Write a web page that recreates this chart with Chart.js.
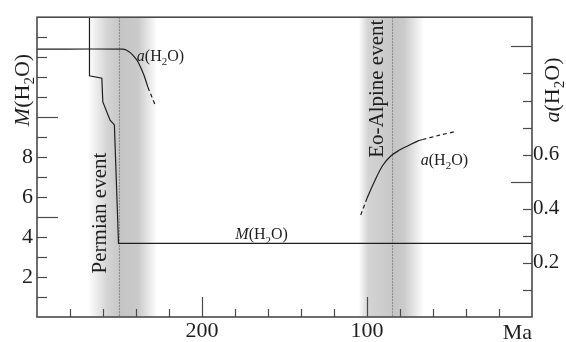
<!DOCTYPE html>
<html><head><meta charset="utf-8">
<script src="https://cdn.jsdelivr.net/npm/chart.js@4"></script>
<style>html,body{margin:0;padding:0;background:#fff;}canvas{display:block;}</style>
</head><body>
<canvas id="c" width="566" height="342"></canvas>
<script>
// ---------- data (age in Ma) ----------
const M_AGE = [268.2, 268.2, 260.7, 260.1, 255.7, 253.1, 250.6, 0];
const M_VAL = [16, 12.07, 11.95, 10.76, 9.85, 9.61, 3.68, 3.68];

const A1_AGE = [300, 248, 246, 243.5, 240.5, 238.5, 235.4, 233.4, 232.8];
const A1_VAL = [0.99, 0.99, 0.987, 0.977, 0.958, 0.94, 0.897, 0.861, 0.849];
const A1_DASH_AGE = [232.8, 230.5, 228.3];
const A1_DASH_VAL = [0.849, 0.815, 0.782];

const A2_DASH_START_AGE = [103.8, 100.1];
const A2_DASH_START_VAL = [0.377, 0.437];
const A2_AGE = [100.1, 95.7, 90.6, 85.6, 80.5, 75.4, 69.3, 66.3];
const A2_VAL = [0.437, 0.498, 0.559, 0.595, 0.616, 0.632, 0.650, 0.656];
const A2_DASH_END_AGE = [66.3, 56, 46];
const A2_DASH_END_VAL = [0.656, 0.672, 0.686];

const EVENT_NAMES = ['Permian event', 'Eo-Alpine event'];
const EVENT_AGES = [250.6, 85.1];
// band: fade start, full start, event, full end, fade end (Ma)
const EVENT_BANDS = [[269.0, 257.5, 250.6, 238.6, 227.1], [105.0, 99.5, 85.1, 77.6, 65.5]];

const X_LABEL_VALUES = [200, 100];
const X_LONG_TICKS = [200, 100];
const M_LABEL_VALUES = [2, 4, 6, 8];
const M_LONG_TICKS = [5, 10];
const A_LABEL_VALUES = [0.2, 0.4, 0.6];
const A_LONG_TICKS = [0.5, 1.0];

// ---------- styling ----------
const SERIF = '"Liberation Serif", Tinos, "Times New Roman", serif';
const INK = '#1e1e1e';
const AXIS = '#4a4a4a';

function pts(xs, ys) { return xs.map((x, i) => ({ x: x, y: ys[i] })); }
const near = (arr, v) => arr.find(l => Math.abs(l - v) < 1e-6);

function chemParts(letter, size) {
  return [
    { t: letter, f: 'italic ' + size + 'px ' + SERIF, dy: 0 },
    { t: '(H', f: size + 'px ' + SERIF, dy: 0 },
    { t: '2', f: Math.round(size * 0.68) + 'px ' + SERIF, dy: size * 0.26 },
    { t: 'O)', f: size + 'px ' + SERIF, dy: 0 }
  ];
}
function chemWidth(ctx, letter, size) {
  let w = 0;
  chemParts(letter, size).forEach(p => { ctx.font = p.f; w += ctx.measureText(p.t).width; });
  return w;
}
function drawChem(ctx, letter, size, x, y) {
  ctx.textAlign = 'left'; ctx.textBaseline = 'alphabetic';
  chemParts(letter, size).forEach(p => {
    ctx.font = p.f; ctx.fillText(p.t, x, y + p.dy); x += ctx.measureText(p.t).width;
  });
}

const decor = {
  id: 'decor',
  beforeDatasetsDraw(chart) {
    const { ctx, chartArea: a, scales } = chart;
    const xs = scales.x;
    ctx.save();
    EVENT_BANDS.forEach((b, i) => {
      const p = b.map(v => xs.getPixelForValue(v));
      const w = p[4] - p[0];
      const g = ctx.createLinearGradient(p[0], 0, p[4], 0);
      const o = v => Math.min(1, Math.max(0, (v - p[0]) / w));
      g.addColorStop(0, 'rgba(255,255,255,1)');
      g.addColorStop(o(p[1]), 'rgb(212,212,212)');
      g.addColorStop(o(p[2]) - 0.001, 'rgb(200,200,200)');
      g.addColorStop(o(p[2]), 'rgb(196,196,196)');
      g.addColorStop(o(p[3]), 'rgb(202,202,202)');
      g.addColorStop(1, 'rgba(255,255,255,1)');
      ctx.fillStyle = g;
      ctx.fillRect(p[0], a.top, w, a.bottom - a.top);
      const ex = Math.round(xs.getPixelForValue(EVENT_AGES[i])) + 0.5;
      ctx.strokeStyle = '#8c8c8c'; ctx.lineWidth = 1; ctx.setLineDash([2, 1]);
      ctx.beginPath(); ctx.moveTo(ex, a.top); ctx.lineTo(ex, a.bottom); ctx.stroke();
      ctx.setLineDash([]);
    });
    ctx.fillStyle = INK;
    ctx.font = '21px ' + SERIF;
    ctx.textAlign = 'center'; ctx.textBaseline = 'middle';
    const yM = scales.yM;
    const textAnchors = [[261.3, 5.2], [93.6, 11.42]];
    EVENT_NAMES.forEach((n, i) => {
      ctx.save();
      ctx.translate(xs.getPixelForValue(textAnchors[i][0]), yM.getPixelForValue(textAnchors[i][1]));
      ctx.rotate(-Math.PI / 2);
      ctx.fillText(n, 0, 0);
      ctx.restore();
    });
    ctx.restore();
  },
  afterDatasetsDraw(chart) {
    const { ctx, chartArea: a, scales } = chart;
    ctx.save();
    ctx.strokeStyle = AXIS; ctx.lineWidth = 1.2;
    const line = (x1, y1, x2, y2) => { ctx.beginPath(); ctx.moveTo(x1, y1); ctx.lineTo(x2, y2); ctx.stroke(); };
    scales.x.ticks.forEach(t => {
      const px = scales.x.getPixelForValue(t.value);
      if (px < a.left + 4 || px > a.right - 4) return;
      const len = near(X_LONG_TICKS, t.value) !== undefined ? 20 : 8;
      line(Math.round(px) + 0.5, a.bottom, Math.round(px) + 0.5, a.bottom - len);
    });
    scales.yM.ticks.forEach(t => {
      const py = scales.yM.getPixelForValue(t.value);
      if (py < a.top + 4 || py > a.bottom - 4) return;
      const len = near(M_LONG_TICKS, t.value) !== undefined ? 21 : 10;
      line(a.left, Math.round(py) + 0.5, a.left + len, Math.round(py) + 0.5);
    });
    scales.yA.ticks.forEach(t => {
      const py = scales.yA.getPixelForValue(t.value);
      if (py < a.top + 6 || py > a.bottom - 4) return;
      const len = near(A_LONG_TICKS, t.value) !== undefined ? 21 : 9;
      line(a.right, Math.round(py) + 0.5, a.right - len, Math.round(py) + 0.5);
    });
    ctx.strokeStyle = AXIS; ctx.lineWidth = 1.6;
    ctx.strokeRect(a.left, a.top, a.right - a.left, a.bottom - a.top);

    ctx.fillStyle = INK;
    const xs = scales.x;
    drawChem(ctx, 'a', 16, xs.getPixelForValue(239.5), scales.yA.getPixelForValue(0.945));
    drawChem(ctx, 'a', 16, xs.getPixelForValue(67.4), scales.yA.getPixelForValue(0.563));
    drawChem(ctx, 'M', 16, xs.getPixelForValue(179.8), scales.yM.getPixelForValue(3.88));

    const title = (letter, cx, cy) => {
      ctx.save(); ctx.translate(cx, cy); ctx.rotate(-Math.PI / 2);
      const w = chemWidth(ctx, letter, 22);
      drawChem(ctx, letter, 22, -w / 2, 7.5);
      ctx.restore();
    };
    title('M', 21, 90);
    title('a', 551, 90);

    ctx.font = '22px ' + SERIF; ctx.textAlign = 'right'; ctx.textBaseline = 'alphabetic';
    ctx.fillText('Ma', a.right, 339);
    ctx.restore();
  }
};

const solid = { borderColor: INK, borderWidth: 1.2, pointRadius: 0, fill: false };
const dashed = Object.assign({}, solid, { borderDash: [4, 3] });

new Chart(document.getElementById('c'), {
  type: 'line',
  data: {
    datasets: [
      Object.assign({ label: 'M(H2O)', data: pts(M_AGE, M_VAL), yAxisID: 'yM', tension: 0 }, solid),
      Object.assign({ label: 'a(H2O) Permian', data: pts(A1_AGE, A1_VAL), yAxisID: 'yA', tension: 0.35 }, solid),
      Object.assign({ label: 'a(H2O) Permian extrapolated', data: pts(A1_DASH_AGE, A1_DASH_VAL), yAxisID: 'yA', tension: 0.3 }, dashed),
      Object.assign({ label: 'a(H2O) Eo-Alpine early', data: pts(A2_DASH_START_AGE, A2_DASH_START_VAL), yAxisID: 'yA', tension: 0 }, dashed),
      Object.assign({ label: 'a(H2O) Eo-Alpine', data: pts(A2_AGE, A2_VAL), yAxisID: 'yA', tension: 0.35 }, solid),
      Object.assign({ label: 'a(H2O) Eo-Alpine extrapolated', data: pts(A2_DASH_END_AGE, A2_DASH_END_VAL), yAxisID: 'yA', tension: 0.3 }, dashed)
    ]
  },
  options: {
    responsive: false,
    animation: false,
    layout: { padding: { top: 12, left: 0, right: 0, bottom: 0 } },
    plugins: { legend: { display: false }, tooltip: { enabled: false } },
    scales: {
      x: {
        type: 'linear', reverse: true, min: 0, max: 300,
        grid: { display: false, drawTicks: false }, border: { display: false },
        ticks: {
          stepSize: 20, autoSkip: false, maxRotation: 0, padding: 1, color: INK,
          font: { family: SERIF, size: 22 },
          callback: v => near(X_LABEL_VALUES, v) !== undefined ? String(v) : ''
        },
        afterFit: s => { s.height = 25; }
      },
      yM: {
        type: 'linear', position: 'left', min: 0, max: 15,
        grid: { display: false, drawTicks: false }, border: { display: false },
        ticks: {
          stepSize: 1, autoSkip: false, padding: 4, color: INK,
          font: { family: SERIF, size: 22 },
          callback: v => near(M_LABEL_VALUES, v) !== undefined ? String(v) : ''
        },
        afterFit: s => { s.width = 37; }
      },
      yA: {
        type: 'linear', position: 'right', min: 0, max: 1.108,
        grid: { display: false, drawTicks: false }, border: { display: false },
        ticks: {
          stepSize: 0.1, autoSkip: false, padding: 1, color: INK,
          font: { family: SERIF, size: 21 },
          callback: v => { const l = near(A_LABEL_VALUES, v); return l !== undefined ? l.toFixed(1) : ''; }
        },
        afterFit: s => { s.width = 34; }
      }
    }
  },
  plugins: [decor]
});
</script>
</body></html>
